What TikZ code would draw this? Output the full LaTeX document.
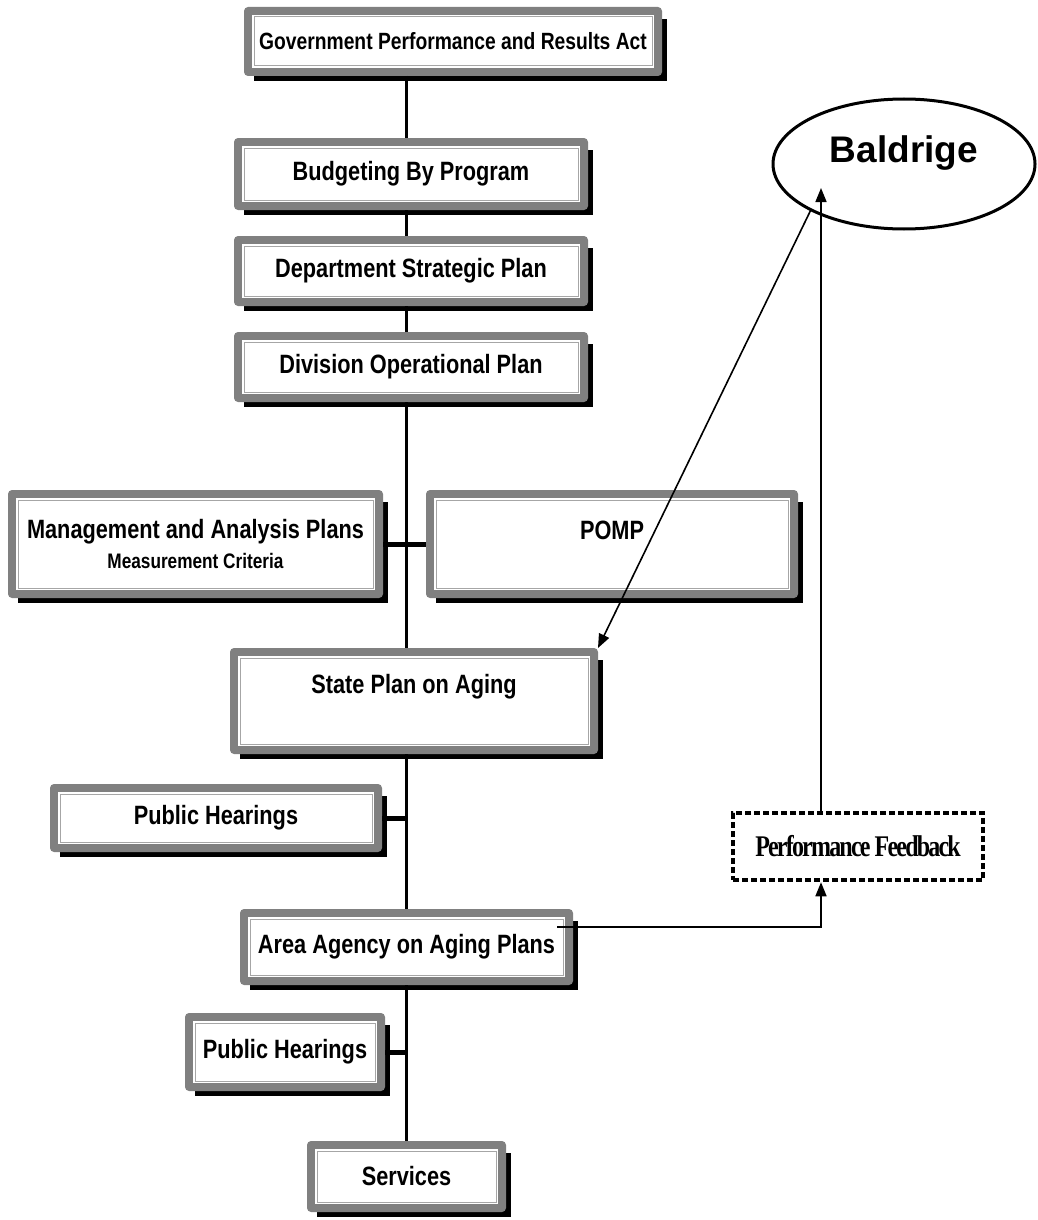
\documentclass[tikz,border=0pt]{standalone}
\usepackage{fontspec}
\setmainfont{Liberation Sans}
\newfontfamily\boxfont[FakeStretch=0.82]{Liberation Sans}
\newfontfamily\fbfont[FakeStretch=0.8,LetterSpace=-6]{Liberation Serif}
\usetikzlibrary{calc,arrows.meta,shapes.geometric}
\pgfdeclarelayer{bg}
\pgfsetlayers{bg,main}
\definecolor{framegray}{RGB}{128,128,128}
\newcommand\mkbox[7][]{%
  \node[boxnode,minimum width={#4-#2},minimum height={#5-#3},#1] (#7) at ({(#2+#4)/2},{(#3+#5)/2}) {#6};}
\begin{document}
\begin{tikzpicture}[x=1pt,y=-1pt,
  boxnode/.style={inner sep=0pt,outer sep=0pt,align=center,
    font=\boxfont\bfseries\fontsize{26.5}{29}\selectfont},
  boxtext/.style={inner sep=0pt,align=center,
    font=\boxfont\bfseries\fontsize{26.5}{29}\selectfont},
  trunkline/.style={line width=3pt},
  branch/.style={line width=5pt},
  thinarrow/.style={line width=1.6pt,-{Triangle[length=14pt,width=11pt]}},
]
\useasboundingbox (0,0) rectangle (1037,1220);
\coordinate (trunk) at (406,0);

\mkbox[font=\boxfont\bfseries\fontsize{23.5}{26}\selectfont]{244}{7}{662}{76}{Government Performance and Results Act}{gpra}
\mkbox{234}{138}{588}{210}{Budgeting By Program}{bud}
\mkbox{234}{236}{588}{306}{Department Strategic Plan}{dept}
\mkbox{234}{332}{588}{402}{Division Operational Plan}{div}
\mkbox{8}{490}{383}{598}{Management and Analysis Plans\\[1pt]{\fontsize{21}{23}\selectfont Measurement Criteria}}{mgmt}
\mkbox[label={[boxtext,yshift=14pt]center:POMP}]{426}{490}{798}{598}{}{pomp}
\mkbox[label={[boxtext,yshift=14pt]center:State Plan on Aging}]{230}{648}{598}{754}{}{state}
\mkbox{50}{784}{382}{852}{Public Hearings}{phone}
\mkbox{240}{909}{573}{985}{Area Agency on Aging Plans}{area}
\mkbox{185}{1013}{385}{1091}{Public Hearings}{phtwo}
\mkbox{307}{1141}{506}{1212}{Services}{serv}

\begin{pgfonlayer}{bg}
\foreach \n in {gpra,bud,dept,div,mgmt,pomp,state,phone,area,phtwo,serv}{
  \fill[black] ($(\n.north west)+(10,12)$) rectangle ($(\n.south east)+(5,5)$);
  \fill[framegray,rounded corners=4pt] (\n.north west) rectangle (\n.south east);
  \fill[white] ($(\n.north west)+(8,8)$) rectangle ($(\n.south east)+(-8,-8)$);
  \draw[gray!70,line width=1pt] ($(\n.north west)+(10,10)$) rectangle ($(\n.south east)+(-10,-10)$);
}
\end{pgfonlayer}

\node[draw,ellipse,line width=3pt,inner sep=0pt,minimum width=262pt,minimum height=130pt,
  label={[font=\bfseries\fontsize{37}{40}\selectfont,yshift=11pt]center:Baldrige}] (bald) at (904,164) {};
\node[draw,line width=4.5pt,dash pattern=on 6pt off 3pt,minimum width=250pt,minimum height=67pt,inner sep=0pt,
  font=\fbfont\bfseries\fontsize{30}{32}\selectfont] (fb) at (858,846.5) {\raisebox{-3pt}{Performance Feedback}};

% trunk
\draw[trunkline] (gpra.south -| trunk) -- (bud.north -| trunk);
\draw[trunkline] (bud.south -| trunk) -- (dept.north -| trunk);
\draw[trunkline] (dept.south -| trunk) -- (div.north -| trunk);
\draw[trunkline] (div.south -| trunk) -- (state.north -| trunk);
\draw[trunkline] (state.south -| trunk) -- (area.north -| trunk);
\draw[trunkline] (area.south -| trunk) -- (serv.north -| trunk);
% branches
\draw[branch] (mgmt.east) -- (pomp.west);
\draw[branch] (phone.east) -- (phone.east -| trunk);
\draw[branch] (phtwo.east) -- (phtwo.east -| trunk);

% arrows
\coordinate (btip) at (821,188);
\coordinate (astart) at (557,927);
\draw[thinarrow] (bald.south west) -- (state.north east);
\draw[thinarrow] (fb.north -| btip) -- (btip);
\draw[thinarrow] (astart) -| (fb.south -| btip);
\end{tikzpicture}
\end{document}
